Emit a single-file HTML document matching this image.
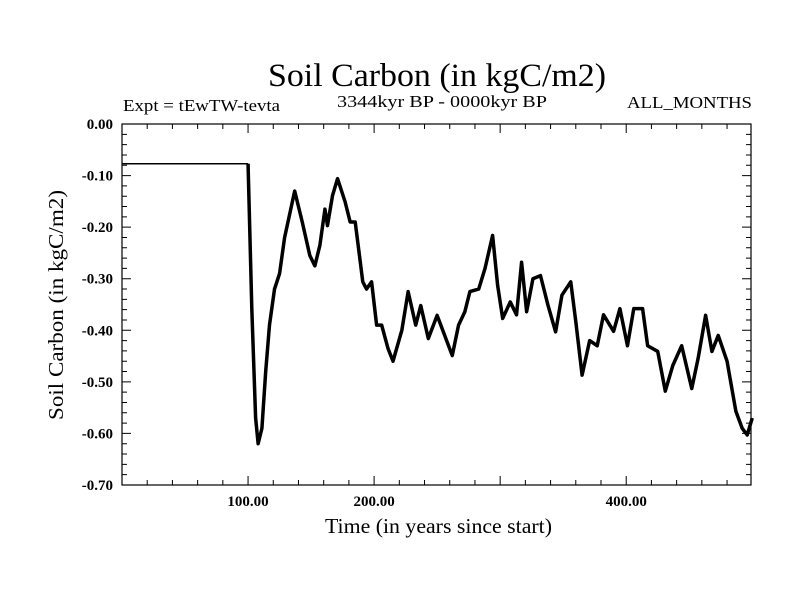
<!DOCTYPE html>
<html><head><meta charset="utf-8"><style>
body{margin:0;background:#fff;}
svg{display:block;font-family:"Liberation Serif",serif;}
</style></head><body>
<svg id="chart" width="800" height="600" viewBox="0 0 800 600">
<rect x="0" y="0" width="800" height="600" fill="#fff"/>
<text x="268" y="86" font-size="33" textLength="338" lengthAdjust="spacingAndGlyphs">Soil Carbon (in kgC/m2)</text>
<text x="123" y="111" font-size="17" textLength="157" lengthAdjust="spacingAndGlyphs">Expt = tEwTW-tevta</text>
<text x="337" y="107" font-size="17" textLength="210" lengthAdjust="spacingAndGlyphs">3344kyr BP - 0000kyr BP</text>
<text x="627" y="108" font-size="17" textLength="125" lengthAdjust="spacingAndGlyphs">ALL_MONTHS</text>
<text x="325" y="533" font-size="21" textLength="227" lengthAdjust="spacingAndGlyphs">Time (in years since start)</text>
<text x="0" y="0" font-size="21" textLength="230" lengthAdjust="spacingAndGlyphs" text-anchor="middle" transform="translate(63,305) rotate(-90)">Soil Carbon (in kgC/m2)</text>
<g id="axes"></g>
<g id="series"></g>
</svg>
<script>
const yTicks=[0,-0.1,-0.2,-0.3,-0.4,-0.5,-0.6,-0.7];
const yTickLabels=["0.00","-0.10","-0.20","-0.30","-0.40","-0.50","-0.60","-0.70"];
const xTicks=[100,200,300,400];
const xTickLabels=["100.00","200.00","","400.00"];
const years=[0,100,100,103,106,108,111,114,117,121,125,129,137,143,149,153,157,161,163,167,171,177,181,185,189,191,194,198,202,206,211,215,222,227,233,237,243,250,254,262,267,272,276,283,288,294,298,302,308,313,317,321,326,332,338,344,349,356,360,365,371,377,382,390,395,401,406,413,417,425,431,437,444,452,457,463,468,473,480,487,492,496,500];
const values=[-0.077,-0.077,-0.077,-0.36,-0.57,-0.62,-0.59,-0.48,-0.39,-0.32,-0.29,-0.22,-0.13,-0.19,-0.255,-0.275,-0.235,-0.165,-0.197,-0.139,-0.106,-0.151,-0.19,-0.19,-0.267,-0.306,-0.32,-0.306,-0.39,-0.39,-0.435,-0.46,-0.40,-0.325,-0.39,-0.352,-0.416,-0.371,-0.397,-0.449,-0.39,-0.364,-0.325,-0.32,-0.28,-0.216,-0.313,-0.377,-0.345,-0.37,-0.268,-0.364,-0.30,-0.294,-0.352,-0.403,-0.332,-0.306,-0.383,-0.487,-0.42,-0.43,-0.37,-0.402,-0.358,-0.43,-0.358,-0.358,-0.43,-0.441,-0.518,-0.468,-0.43,-0.513,-0.455,-0.371,-0.441,-0.41,-0.46,-0.557,-0.59,-0.603,-0.57];
const X0=122,X1=751,Y0=124,Y1=485,xMin=0,xMax=499,yMin=-0.7,yMax=0;
const sx=v=>X0+(v-xMin)/(xMax-xMin)*(X1-X0);
const sy=v=>Y0+(yMax-v)/(yMax-yMin)*(Y1-Y0);
const NS="http://www.w3.org/2000/svg";
const axes=document.getElementById('axes');
function mk(tag,attrs,parent){const e=document.createElementNS(NS,tag);for(const k in attrs)e.setAttribute(k,attrs[k]);parent.appendChild(e);return e;}
const frame=mk('rect',{x:X0,y:Y0,width:X1-X0,height:Y1-Y0,fill:'none',stroke:'#000','stroke-width':1.2},axes);


let d='';
for(let v=0;v>=-0.7001;v-=0.02){const y=sy(v);const major=Math.abs(Math.round(v*10)-v*10)<1e-6;const L=major?9:5;d+=`M${X0},${y}h${L}M${X1},${y}h${-L}`;}
for(let t=20;t<xMax;t+=20){const x=sx(t);const L=(t%100===0)?9:5;d+=`M${x},${Y1}v${-L}M${x},${Y0}v${L}`;}
const ticks=mk('path',{d:d,stroke:'#000','stroke-width':1,fill:'none'},axes);


yTicks.forEach((v,i)=>{const t=mk('text',{x:113,y:sy(v)+5,'font-size':15,'text-anchor':'end','font-weight':'bold'},axes);t.textContent=yTickLabels[i];

});
xTicks.forEach((v,i)=>{if(!xTickLabels[i])return;const t=mk('text',{x:sx(v),y:506,'font-size':15,'text-anchor':'middle','font-weight':'bold'},axes);t.textContent=xTickLabels[i];

});
const g=document.getElementById('series');
let p1='',p2='';
for(let i=0;i<years.length;i++){const x=sx(years[i]),y=sy(values[i]);
 if(i<=2)p1+=(i?'L':'M')+x+','+y;
 if(i>=2)p2+=(i>2?'L':'M')+x+','+y;}
const l1=mk('path',{d:p1,stroke:'#000','stroke-width':1.5,fill:'none'},g);


const l2=mk('path',{d:p2,stroke:'#000','stroke-width':3.5,fill:'none','stroke-linejoin':'round'},g);


</script>
</body></html>
